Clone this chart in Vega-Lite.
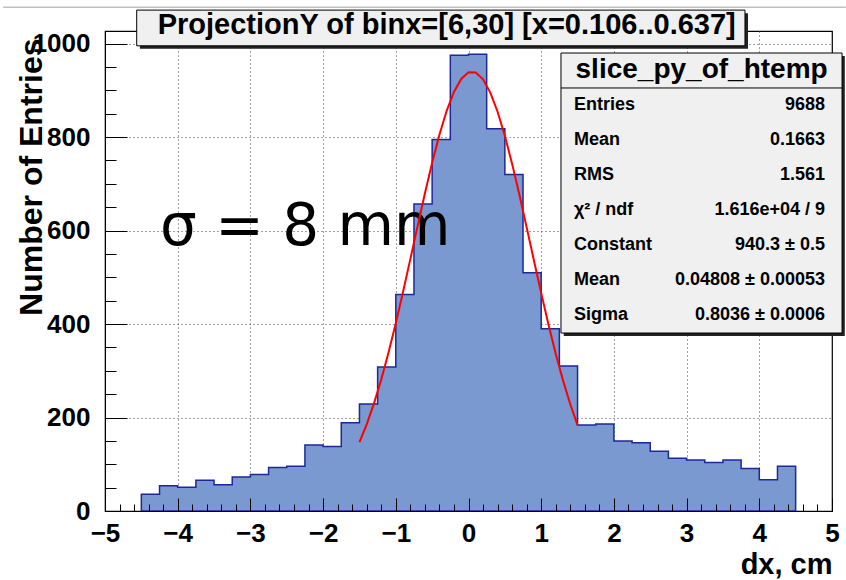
{
  "$schema": "https://vega.github.io/schema/vega-lite/v6.json",
  "width": 727,
  "height": 480,
  "autosize": "none",
  "padding": {"left": 105, "top": 31, "right": 14, "bottom": 69},
  "background": "white",
  "config": {"view": {"stroke": "black", "strokeWidth": 1.2}, "font": "Liberation Sans"},
  "datasets": {
    "bins": [
      {"lo": -4.5, "hi": -4.25, "n": 36}, {"lo": -4.25, "hi": -4, "n": 54}, {"lo": -4, "hi": -3.75, "n": 51},
      {"lo": -3.75, "hi": -3.5, "n": 66}, {"lo": -3.5, "hi": -3.25, "n": 56}, {"lo": -3.25, "hi": -3, "n": 73},
      {"lo": -3, "hi": -2.75, "n": 78}, {"lo": -2.75, "hi": -2.5, "n": 93}, {"lo": -2.5, "hi": -2.25, "n": 96},
      {"lo": -2.25, "hi": -2, "n": 141}, {"lo": -2, "hi": -1.75, "n": 138}, {"lo": -1.75, "hi": -1.5, "n": 189},
      {"lo": -1.5, "hi": -1.25, "n": 229}, {"lo": -1.25, "hi": -1, "n": 308}, {"lo": -1, "hi": -0.75, "n": 463},
      {"lo": -0.75, "hi": -0.5, "n": 657}, {"lo": -0.5, "hi": -0.25, "n": 795}, {"lo": -0.25, "hi": 0, "n": 975},
      {"lo": 0, "hi": 0.25, "n": 977}, {"lo": 0.25, "hi": 0.5, "n": 818}, {"lo": 0.5, "hi": 0.75, "n": 720},
      {"lo": 0.75, "hi": 1, "n": 510}, {"lo": 1, "hi": 1.25, "n": 390}, {"lo": 1.25, "hi": 1.5, "n": 310},
      {"lo": 1.5, "hi": 1.75, "n": 184}, {"lo": 1.75, "hi": 2, "n": 186}, {"lo": 2, "hi": 2.25, "n": 150},
      {"lo": 2.25, "hi": 2.5, "n": 146}, {"lo": 2.5, "hi": 2.75, "n": 128}, {"lo": 2.75, "hi": 3, "n": 113},
      {"lo": 3, "hi": 3.25, "n": 109}, {"lo": 3.25, "hi": 3.5, "n": 104}, {"lo": 3.5, "hi": 3.75, "n": 109},
      {"lo": 3.75, "hi": 4, "n": 91}, {"lo": 4, "hi": 4.25, "n": 67}, {"lo": 4.25, "hi": 4.5, "n": 96}
    ],
    "fit": [
      {"x": -1.5, "f": 147.1}, {"x": -1.4, "f": 185.4}, {"x": -1.3, "f": 230.3}, {"x": -1.2, "f": 281.5},
      {"x": -1.1, "f": 339.0}, {"x": -1.0, "f": 401.8}, {"x": -0.9, "f": 468.9}, {"x": -0.8, "f": 538.9},
      {"x": -0.7, "f": 609.7}, {"x": -0.6, "f": 679.3}, {"x": -0.5, "f": 745.3}, {"x": -0.4, "f": 805.0},
      {"x": -0.3, "f": 856.2}, {"x": -0.2, "f": 896.6}, {"x": -0.1, "f": 924.5}, {"x": 0.0, "f": 938.6},
      {"x": 0.1, "f": 938.3}, {"x": 0.2, "f": 923.6}, {"x": 0.3, "f": 895.2}, {"x": 0.4, "f": 854.3},
      {"x": 0.5, "f": 802.7}, {"x": 0.6, "f": 742.7}, {"x": 0.7, "f": 676.6}, {"x": 0.8, "f": 606.9},
      {"x": 0.9, "f": 536.1}, {"x": 1.0, "f": 466.1}, {"x": 1.1, "f": 399.2}, {"x": 1.2, "f": 336.5},
      {"x": 1.3, "f": 279.4}, {"x": 1.4, "f": 228.3}, {"x": 1.5, "f": 183.8}
    ],
    "stats": [
      {"row": 1, "label": "Entries", "value": "9688"},
      {"row": 2, "label": "Mean", "value": "0.1663"},
      {"row": 3, "label": "RMS", "value": "1.561"},
      {"row": 4, "label": "χ² / ndf", "value": "1.616e+04 / 9"},
      {"row": 5, "label": "Constant", "value": "940.3 ± 0.5"},
      {"row": 6, "label": "Mean", "value": "0.04808 ± 0.00053"},
      {"row": 7, "label": "Sigma", "value": "0.8036 ± 0.0006"}
    ],
    "one": [{}]
  },
  "layer": [
    {
      "layer": [
        {
          "data": {"name": "bins"},
          "transform": [{"fold": ["lo", "hi"], "as": ["edge", "x"]}],
          "mark": {"type": "area", "fill": "#7a99d0", "stroke": "#1c2898", "strokeWidth": 1.5, "interpolate": "linear"},
          "encoding": {
            "x": {"field": "x", "type": "quantitative", "scale": {"domain": [-5, 5], "nice": false, "zero": false},
              "axis": {"orient": "bottom", "values": [-4, -3, -2, -1, 0, 1, 2, 3, 4], "grid": true, "gridColor": "#444", "gridDash": [1, 3], "gridWidth": 1,
                "ticks": false, "labels": false, "domain": false, "title": null, "zindex": 0}},
            "y": {"field": "n", "type": "quantitative", "stack": null, "scale": {"domain": [0, 1027], "nice": false},
              "axis": {"orient": "left", "values": [200, 400, 600, 800, 1000], "grid": true, "gridColor": "#444", "gridDash": [1, 3], "gridWidth": 1,
                "ticks": false, "labels": false, "domain": false, "title": null, "zindex": 0}},
            "order": [{"field": "x", "type": "quantitative"}, {"field": "edge", "type": "nominal"}]
          }
        },
        {
          "data": {"name": "one"},
          "mark": {"type": "text", "font": "DejaVu Sans", "fontSize": 58, "align": "left", "baseline": "alphabetic", "color": "black", "clip": false},
          "encoding": {
            "x": {"datum": -4.243, "type": "quantitative",
              "axis": {"orient": "bottom", "values": [-4.8, -4.6, -4.4, -4.2, -3.8, -3.6, -3.4, -3.2, -2.8, -2.6, -2.4, -2.2, -1.8, -1.6, -1.4, -1.2, -0.8, -0.6, -0.4, -0.2, 0.2, 0.4, 0.6, 0.8, 1.2, 1.4, 1.6, 1.8, 2.2, 2.4, 2.6, 2.8, 3.2, 3.4, 3.6, 3.8, 4.2, 4.4, 4.6, 4.8],
                "ticks": true, "tickSize": -7, "tickColor": "black", "tickWidth": 1, "labels": false, "domain": false, "grid": false, "title": null, "zindex": 1}},
            "y": {"datum": 569, "type": "quantitative",
              "axis": {"orient": "left", "values": [50, 100, 150, 250, 300, 350, 450, 500, 550, 650, 700, 750, 850, 900, 950],
                "ticks": true, "tickSize": -11, "tickColor": "black", "tickWidth": 1, "labels": false, "domain": false, "grid": false, "title": null, "zindex": 1}},
            "text": {"value": "σ = 8 mm"}
          }
        },
        {
          "data": {"name": "fit"},
          "mark": {"type": "line", "color": "#ff0000", "strokeWidth": 2},
          "encoding": {
            "x": {"field": "x", "type": "quantitative",
              "axis": {"orient": "bottom", "values": [-5, -4, -3, -2, -1, 0, 1, 2, 3, 4, 5],
                "format": "d",
                "labelFont": "Liberation Sans", "labelFontSize": 26, "labelFontWeight": "bold", "labelColor": "black",
                "labelOverlap": false, "labelFlush": false, "labelBound": false, "labelPadding": 22, "labelBaseline": "top",
                "ticks": true, "tickColor": "black", "tickWidth": 1, "tickSize": -13,
                "domain": true, "domainColor": "black", "domainWidth": 1, "grid": false, "zindex": 1,
                "title": "dx, cm", "titleFont": "Liberation Sans", "titleFontSize": 29, "titleFontWeight": "bold", "titleColor": "black",
                "titleAnchor": "end", "titleAlign": "right", "titleBaseline": "alphabetic", "titleX": 727, "titleY": 62}},
            "y": {"field": "f", "type": "quantitative",
              "axis": {"orient": "left", "values": [0, 200, 400, 600, 800, 1000],
                "format": "d",
                "labelFont": "Liberation Sans", "labelFontSize": 26, "labelFontWeight": "bold", "labelColor": "black",
                "labelOverlap": false, "labelFlush": false, "labelBound": false, "labelPadding": 37,
                "ticks": true, "tickColor": "black", "tickWidth": 1, "tickSize": -22,
                "domain": true, "domainColor": "black", "domainWidth": 1, "grid": false, "zindex": 1,
                "title": "Number of Entries", "titleFont": "Liberation Sans", "titleFontSize": 32, "titleFontWeight": "bold", "titleColor": "black",
                "titleAngle": -90, "titleAnchor": "end", "titleAlign": "right", "titleBaseline": "alphabetic", "titleX": -64, "titleY": 7}}
          }
        },
        {
          "data": {"name": "one"},
          "mark": {"type": "rule", "stroke": "#a0a0a0", "strokeWidth": 1, "clip": false},
          "encoding": {
            "x": {"datum": -6.4, "type": "quantitative", "axis": null},
            "x2": {"datum": 5.19},
            "y": {"datum": 1078, "type": "quantitative", "axis": null}
          }
        },
        {
          "data": {"name": "one"},
          "mark": {"type": "rect", "fill": "#222222", "clip": false},
          "encoding": {
            "x": {"datum": -4.52, "type": "quantitative", "axis": null},
            "x2": {"datum": 3.845},
            "y": {"datum": 1065, "type": "quantitative", "axis": null},
            "y2": {"datum": 989}
          }
        },
        {
          "data": {"name": "one"},
          "mark": {"type": "rect", "fill": "#f0f0f0", "stroke": "black", "strokeWidth": 1, "clip": false},
          "encoding": {
            "x": {"datum": -4.564, "type": "quantitative", "axis": null},
            "x2": {"datum": 3.803},
            "y": {"datum": 1071.7, "type": "quantitative", "axis": null},
            "y2": {"datum": 995.3}
          }
        },
        {
          "data": {"name": "one"},
          "mark": {"type": "text", "font": "Liberation Sans", "fontSize": 29, "fontWeight": "bold", "align": "center", "baseline": "alphabetic", "color": "black", "clip": false},
          "encoding": {
            "x": {"datum": -0.3, "type": "quantitative", "axis": null},
            "y": {"datum": 1019.7, "type": "quantitative", "axis": null},
            "text": {"value": "ProjectionY of binx=[6,30] [x=0.106..0.637]"}
          }
        }
      ],
      "resolve": {"axis": {"x": "independent", "y": "independent"}}
    },
    {
      "layer": [
        {
          "data": {"name": "one"},
          "mark": {"type": "rect", "fill": "#222222", "clip": false},
          "encoding": {
            "x": {"datum": 1.31, "type": "quantitative", "axis": null},
            "x2": {"datum": 5.176},
            "y": {"datum": -0.4, "type": "quantitative", "scale": {"domain": [-1.114, 12.6], "reverse": true, "nice": false, "zero": false}, "axis": null},
            "y2": {"datum": 7.6}
          }
        },
        {
          "data": {"name": "one"},
          "mark": {"type": "rect", "fill": "#f0f0f0", "stroke": "black", "strokeWidth": 1, "clip": false},
          "encoding": {
            "x": {"datum": 1.272, "type": "quantitative", "axis": null},
            "x2": {"datum": 5.138},
            "y": {"datum": -0.485, "type": "quantitative", "axis": null},
            "y2": {"datum": 7.515}
          }
        },
        {
          "data": {"name": "one"},
          "mark": {"type": "rule", "stroke": "black", "strokeWidth": 1, "clip": false},
          "encoding": {
            "x": {"datum": 1.272, "type": "quantitative", "axis": null},
            "x2": {"datum": 5.138},
            "y": {"datum": 0.514, "type": "quantitative", "axis": null}
          }
        },
        {
          "data": {"name": "one"},
          "mark": {"type": "text", "font": "Liberation Sans", "fontSize": 28, "fontWeight": "bold", "align": "center", "baseline": "middle", "color": "black", "clip": false},
          "encoding": {
            "x": {"datum": 3.206, "type": "quantitative", "axis": null},
            "y": {"datum": 0, "type": "quantitative", "axis": null},
            "text": {"value": "slice_py_of_htemp"}
          }
        },
        {
          "data": {"name": "stats"},
          "mark": {"type": "text", "font": "Liberation Sans", "fontSize": 18, "fontWeight": "bold", "align": "left", "baseline": "middle", "color": "black", "clip": false},
          "encoding": {
            "x": {"datum": 1.451, "type": "quantitative", "axis": null},
            "y": {"field": "row", "type": "quantitative", "axis": null},
            "text": {"field": "label"}
          }
        },
        {
          "data": {"name": "stats"},
          "mark": {"type": "text", "font": "Liberation Sans", "fontSize": 18, "fontWeight": "bold", "align": "right", "baseline": "middle", "color": "black", "clip": false},
          "encoding": {
            "x": {"datum": 4.904, "type": "quantitative", "axis": null},
            "y": {"field": "row", "type": "quantitative", "axis": null},
            "text": {"field": "value"}
          }
        }
      ]
    }
  ],
  "resolve": {"scale": {"y": "independent"}}
}
